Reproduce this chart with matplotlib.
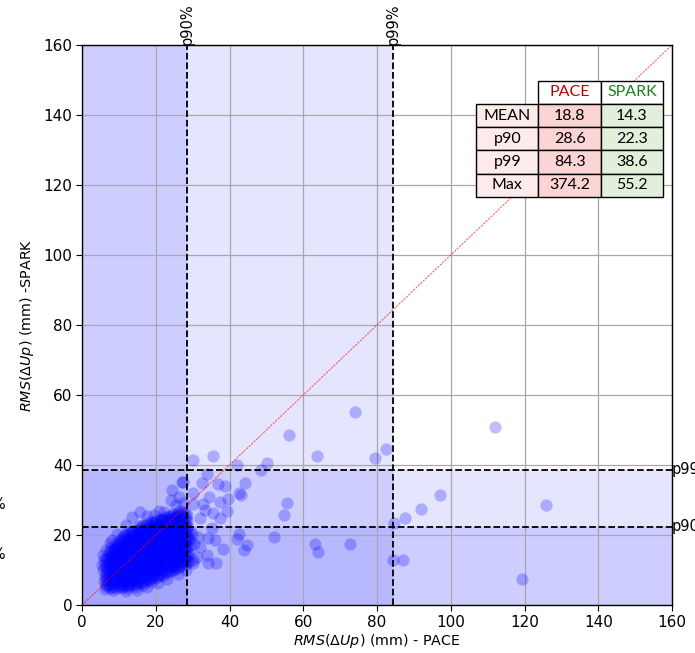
import matplotlib
matplotlib.use("Agg")
import matplotlib.pyplot as plt

# ---------------- data ----------------
stat_rows = ["MEAN", "p90", "p99", "Max"]
stat_cols = ["PACE", "SPARK"]
pace_stats = [18.8, 28.6, 84.3, 374.2]
spark_stats = [14.3, 22.3, 38.6, 55.2]

p90_pace, p99_pace = 28.6, 84.3
p90_spark, p99_spark = 22.3, 38.6

# dense cluster, first pass: (PACE, SPARK)
cluster = [
    (6.0, 6.8), (6.3, 8.3), (5.8, 9.9), (6.2, 11.2), (6.0, 12.8), (6.4, 5.3),
    (7.1, 5.7), (6.8, 7.2), (7.3, 8.6), (7.0, 10.1), (7.4, 11.7), (6.9, 13.2), (7.2, 14.8),
    (8.2, 5.2), (7.9, 6.6), (8.3, 8.1), (8.0, 9.5), (8.4, 11.0), (7.8, 12.6), (8.1, 14.0), (8.3, 15.5), (7.9, 16.6),
    (9.1, 5.0), (8.8, 6.4), (9.3, 7.9), (9.0, 9.3), (8.7, 10.8), (9.2, 12.2), (9.0, 13.7), (9.4, 15.1), (8.9, 16.4), (9.2, 17.5),
    (10.2, 5.3), (9.8, 6.8), (10.1, 8.2), (10.4, 9.6), (9.9, 11.1), (10.2, 12.5), (10.0, 14.0), (10.3, 15.5), (9.8, 16.9), (10.1, 18.3),
    (11.0, 5.1), (11.3, 6.5), (10.8, 7.8), (11.1, 9.2), (11.4, 10.7), (10.9, 12.1), (11.2, 13.6), (11.0, 15.0), (11.3, 16.5), (10.8, 17.9), (11.1, 19.3),
    (12.1, 5.4), (11.8, 6.9), (12.3, 8.3), (12.0, 9.8), (11.7, 11.2), (12.2, 12.7), (12.0, 14.1), (12.4, 15.6), (11.9, 17.0), (12.2, 18.5), (11.8, 19.9),
    (13.0, 5.6), (13.3, 7.0), (12.8, 8.5), (13.1, 9.9), (13.4, 11.4), (12.9, 12.8), (13.2, 14.3), (13.0, 15.8), (13.3, 17.2), (12.8, 18.7), (13.1, 20.1), (13.4, 21.0),
    (14.1, 5.8), (13.8, 7.3), (14.3, 8.7), (14.0, 10.2), (13.7, 11.6), (14.2, 13.1), (14.0, 14.5), (14.4, 16.0), (13.9, 17.4), (14.2, 18.9), (13.8, 20.3), (14.1, 21.4),
    (15.0, 6.0), (15.3, 7.4), (14.8, 8.9), (15.1, 10.3), (15.4, 11.8), (14.9, 13.2), (15.2, 14.7), (15.0, 16.1), (15.3, 17.6), (14.8, 19.0), (15.1, 20.5), (15.4, 21.8),
    (16.1, 6.3), (15.8, 7.8), (16.3, 9.2), (16.0, 10.7), (15.7, 12.1), (16.2, 13.6), (16.0, 15.0), (16.4, 16.5), (15.9, 17.9), (16.2, 19.4), (15.8, 20.8), (16.1, 22.2),
    (17.0, 6.7), (17.3, 8.1), (16.8, 9.6), (17.1, 11.0), (17.4, 12.5), (16.9, 13.9), (17.2, 15.4), (17.0, 16.8), (17.3, 18.3), (16.8, 19.7), (17.1, 21.2), (17.4, 22.6),
    (18.1, 7.1), (17.8, 8.6), (18.3, 10.0), (18.0, 11.5), (17.7, 12.9), (18.2, 14.4), (18.0, 15.8), (18.4, 17.3), (17.9, 18.7), (18.2, 20.2), (17.8, 21.6), (18.1, 23.0),
    (19.0, 7.6), (19.3, 9.0), (18.8, 10.5), (19.1, 11.9), (19.4, 13.4), (18.9, 14.8), (19.2, 16.3), (19.0, 17.7), (19.3, 19.2), (18.8, 20.6), (19.1, 22.1), (19.4, 23.5),
    (20.1, 7.8), (19.8, 9.3), (20.3, 10.7), (20.0, 12.2), (19.7, 13.6), (20.2, 15.1), (20.0, 16.5), (20.4, 18.0), (19.9, 19.4), (20.2, 20.9), (19.8, 22.3), (20.1, 23.8),
    (21.0, 8.2), (21.3, 9.7), (20.8, 11.1), (21.1, 12.6), (21.4, 14.0), (20.9, 15.5), (21.2, 16.9), (21.0, 18.4), (21.3, 19.8), (20.8, 21.3), (21.1, 22.7), (21.4, 24.2),
    (22.1, 8.7), (21.8, 10.1), (22.3, 11.6), (22.0, 13.0), (21.7, 14.5), (22.2, 15.9), (22.0, 17.4), (22.4, 18.8), (21.9, 20.3), (22.2, 21.7), (21.8, 23.2), (22.1, 24.6),
    (23.0, 9.1), (23.3, 10.6), (22.8, 12.0), (23.1, 13.5), (23.4, 14.9), (22.9, 16.4), (23.2, 17.8), (23.0, 19.3), (23.3, 20.7), (22.8, 22.2), (23.1, 23.6), (23.4, 25.0),
    (24.1, 9.6), (23.8, 11.0), (24.3, 12.5), (24.0, 13.9), (23.7, 15.4), (24.2, 16.8), (24.0, 18.3), (24.4, 19.7), (23.9, 21.2), (24.2, 22.6), (23.8, 24.1), (24.1, 25.4),
    (25.0, 10.1), (25.3, 11.5), (24.8, 13.0), (25.1, 14.4), (25.4, 15.9), (24.9, 17.3), (25.2, 18.8), (25.0, 20.2), (25.3, 21.7), (24.8, 23.1), (25.1, 24.6), (25.4, 25.8),
    (26.1, 10.6), (25.8, 12.0), (26.3, 13.5), (26.0, 14.9), (25.7, 16.4), (26.2, 17.8), (26.0, 19.3), (26.4, 20.7), (25.9, 22.2), (26.2, 23.6), (25.8, 25.1), (26.1, 26.2),
    (27.0, 11.2), (27.3, 12.6), (26.8, 14.1), (27.1, 15.5), (27.4, 17.0), (26.9, 18.4), (27.2, 19.9), (27.0, 21.3), (27.3, 22.8), (26.8, 24.2), (27.1, 25.7),
    (28.1, 11.8), (27.8, 13.3), (28.3, 14.7), (28.0, 16.2), (27.7, 17.6), (28.2, 19.1), (28.0, 20.5), (28.4, 22.0), (27.9, 23.4), (28.2, 24.9), (27.8, 26.3),
    (29.1, 12.4), (28.9, 14.6), (29.3, 16.8), (29.0, 19.0), (29.2, 21.2),
    (30.0, 13.0), (30.3, 17.5), (29.8, 20.4),
]

# dense cluster, second pass, column by column: PACE value, list of SPARK values
cluster_cols = [
    (6.6, [6.1, 7.6, 9.1, 10.6, 12.0, 13.4]),
    (7.5, [5.0, 6.4, 7.9, 9.4, 10.9, 12.4, 13.9, 15.5]),
    (8.6, [5.8, 7.3, 8.8, 10.2, 11.7, 13.3, 14.7, 16.1]),
    (9.5, [5.6, 7.1, 8.6, 10.0, 11.5, 12.9, 14.4, 15.8, 17.0]),
    (10.6, [4.8, 6.0, 7.5, 8.9, 10.4, 11.8, 13.3, 14.7, 16.2, 17.6, 19.0]),
    (11.5, [5.8, 7.2, 8.5, 9.9, 11.4, 12.8, 14.3, 15.7, 17.2, 18.6, 20.0]),
    (12.6, [4.8, 6.1, 7.6, 9.0, 10.5, 11.9, 13.4, 14.8, 16.3, 17.7, 19.2, 20.6]),
    (13.5, [6.3, 7.7, 9.2, 10.6, 12.1, 13.5, 15.0, 16.5, 17.9, 19.4, 20.8]),
    (14.6, [5.2, 6.5, 8.0, 9.4, 10.9, 12.3, 13.8, 15.2, 16.7, 18.1, 19.6, 21.0]),
    (15.5, [6.7, 8.1, 9.6, 11.0, 12.5, 13.9, 15.4, 16.8, 18.3, 19.7, 21.2, 22.5]),
    (16.6, [5.6, 7.0, 8.5, 9.9, 11.4, 12.8, 14.3, 15.7, 17.2, 18.6, 20.1, 21.5, 22.8]),
    (17.5, [7.4, 8.8, 10.3, 11.7, 13.2, 14.6, 16.1, 17.5, 19.0, 20.4, 21.9, 23.3]),
    (18.6, [6.5, 7.8, 9.3, 10.7, 12.2, 13.6, 15.1, 16.5, 18.0, 19.4, 20.9, 22.3, 23.6]),
    (19.5, [8.3, 9.7, 11.2, 12.6, 14.1, 15.5, 17.0, 18.4, 19.9, 21.3, 22.8, 24.0]),
    (20.6, [8.5, 10.0, 11.4, 12.9, 14.3, 15.8, 17.2, 18.7, 20.1, 21.6, 23.0, 24.3]),
    (21.5, [8.9, 10.4, 11.8, 13.3, 14.7, 16.2, 17.6, 19.1, 20.5, 22.0, 23.4, 24.7]),
    (22.6, [9.4, 10.8, 12.3, 13.7, 15.2, 16.6, 18.1, 19.5, 21.0, 22.4, 23.9, 25.1]),
    (23.5, [9.8, 11.3, 12.7, 14.2, 15.6, 17.1, 18.5, 20.0, 21.4, 22.9, 24.3, 25.5]),
    (24.6, [10.3, 11.7, 13.2, 14.6, 16.1, 17.5, 19.0, 20.4, 21.9, 23.3, 24.8, 26.0]),
    (25.5, [10.8, 12.2, 13.7, 15.1, 16.6, 18.0, 19.5, 20.9, 22.4, 23.8, 25.2]),
    (26.6, [11.3, 12.7, 14.2, 15.6, 17.1, 18.5, 20.0, 21.4, 22.9, 24.3, 25.6, 27.0]),
    (27.5, [11.9, 13.3, 14.8, 16.2, 17.7, 19.1, 20.6, 22.0, 23.5, 24.9, 26.4]),
    (28.4, [12.5, 14.0, 15.4, 16.9, 18.3, 19.8, 21.2, 22.7, 24.1, 25.6]),
]

# sparser points around the cluster and the outliers: (PACE, SPARK)
sparse = [
    (6.3, 4.6), (8.5, 4.2), (12.0, 4.0), (15.0, 4.3), (17.5, 5.2), (20.5, 6.2), (23.0, 7.5), (26.0, 9.0), (28.2, 10.0),
    (5.4, 11.5), (5.6, 14.2), (6.5, 15.8), (7.6, 17.8),
    (9.5, 20.3), (8.0, 18.5), (11.8, 22.8), (13.6, 25.2), (15.8, 26.7), (17.5, 25.5), (19.5, 25.8), (20.8, 26.8),
    (22.2, 26.7), (24.0, 30.0), (26.2, 31.0), (24.4, 32.9), (27.0, 35.2), (25.5, 28.5), (27.5, 29.2),
    (30.2, 41.4), (35.4, 42.7), (42.0, 40.0), (48.5, 38.6), (50.3, 40.6), (33.8, 37.3), (32.5, 35.0),
    (37.0, 34.6), (38.8, 34.1), (44.3, 34.8), (42.7, 31.9), (43.0, 31.4), (39.6, 30.2), (37.4, 29.5),
    (34.4, 30.8), (39.2, 26.9), (37.4, 25.0), (35.6, 26.4), (33.4, 27.1), (32.0, 24.8), (52.2, 19.5),
    (42.5, 20.3), (42.1, 18.8), (44.7, 17.1), (43.9, 15.7), (38.2, 16.0), (36.1, 18.6), (36.3, 11.9),
    (34.3, 12.1), (33.8, 14.3), (31.1, 13.8), (30.2, 11.9), (35.2, 21.9), (34.3, 19.1), (30.0, 31.9),
    (30.2, 29.0), (27.5, 35.2), (32.9, 29.0), (31.5, 19.5), (32.0, 16.7), (29.3, 18.6),
    (74.1, 55.1), (56.2, 48.6), (63.6, 42.6), (79.5, 42.0), (82.5, 44.6), (111.9, 50.9),
    (55.5, 29.2), (54.8, 25.8), (97.1, 31.3), (91.8, 27.5), (87.7, 25.0), (84.7, 23.3), (125.7, 28.7),
    (63.1, 17.4), (64.0, 15.1), (72.7, 17.4), (84.3, 13.0), (87.1, 13.0), (119.3, 7.5),
]

pace = [p[0] for p in cluster] + [x for x, ys in cluster_cols for _ in ys] + [p[0] for p in sparse]
spark = [p[1] for p in cluster] + [y for _, ys in cluster_cols for y in ys] + [p[1] for p in sparse]

ticks = [0, 20, 40, 60, 80, 100, 120, 140, 160]

# ---------------- figure ----------------
fig = plt.figure(figsize=(6.95, 6.53), dpi=100)
ax = fig.add_axes([82 / 695, 1 - 605 / 653, 590 / 695, 560 / 653])

shade = dict(color="blue", alpha=0.1, lw=0, zorder=0.5)
ax.axvspan(0, p90_pace, **shade)
ax.axvspan(0, p99_pace, **shade)
ax.axhspan(0, p90_spark, **shade)
ax.axhspan(0, p99_spark, **shade)

ax.grid(True, color="#a8a8a8", lw=0.9, zorder=1.5)

ax.scatter(pace, spark, s=78, color="blue", alpha=0.25, lw=0, zorder=2)

ax.plot([0, 160], [0, 160], color="red", lw=0.8, ls=(0, (2, 1)), alpha=0.6, zorder=2.5)

for v in (p90_pace, p99_pace):
    ax.axvline(v, color="black", ls="--", lw=1.3, zorder=3)
for v in (p90_spark, p99_spark):
    ax.axhline(v, color="black", ls="--", lw=1.3, zorder=3)

ax.text(p90_pace, 160, "p90%", rotation=90, ha="center", va="bottom", fontsize=10.5)
ax.text(p99_pace, 160, "p99%", rotation=90, ha="center", va="bottom", fontsize=10.5)
ax.text(160, p99_spark, "p99", ha="left", va="center", fontsize=10.5, clip_on=False)
ax.text(160, p90_spark, "p90", ha="left", va="center", fontsize=10.5, clip_on=False)
fig.text(6 / 695, 1 - 505 / 653, "p90%", ha="right", va="center", fontsize=10.5)
fig.text(6 / 695, 1 - 555 / 653, "p99%", ha="right", va="center", fontsize=10.5)

ax.set_xlim(0, 160)
ax.set_ylim(0, 160)
ax.set_xticks(ticks)
ax.set_yticks(ticks)
ax.tick_params(labelsize=11, length=4, pad=3)
for s in ax.spines.values():
    s.set_color("black")
    s.set_linewidth(1.0)

ax.set_xlabel(r"$RMS(\Delta Up)$ (mm) - PACE", fontsize=10.3, labelpad=2)
ax.set_ylabel(r"$RMS(\Delta Up)$ (mm) -SPARK", fontsize=10.3, labelpad=5)

# ---------------- table ----------------
cell_text = [[""] + stat_cols] + [
    [r, f"{a:.1f}", f"{b:.1f}"] for r, a, b in zip(stat_rows, pace_stats, spark_stats)
]
row_c = "#fdeaea"
pace_c = "#fcd4d4"
spark_c = "#e2efda"
colours = [["white", "white", "white"]] + [[row_c, pace_c, spark_c] for _ in stat_rows]
tab = ax.table(cellText=cell_text, cellColours=colours, cellLoc="center",
               bbox=[0.668, 0.729, 0.317, 0.207], zorder=5)
tab.auto_set_font_size(False)
for (r, c), cell in tab.get_celld().items():
    cell.set_linewidth(1.0)
    cell.set_edgecolor("black")
    cell.get_text().set_fontsize(11.5)
    cell.get_text().set_family(["Lato", "DejaVu Sans"])
    if r == 0 and c == 0:
        cell.set_linewidth(0)
        cell.set_facecolor("none")
    if r == 0 and c == 1:
        cell.get_text().set_color("#c00000")
        cell._loc = "left"
    if r == 0 and c == 2:
        cell.get_text().set_color("#1a7f1a")
        cell._loc = "left"

fig.savefig("out.png", dpi=100)
